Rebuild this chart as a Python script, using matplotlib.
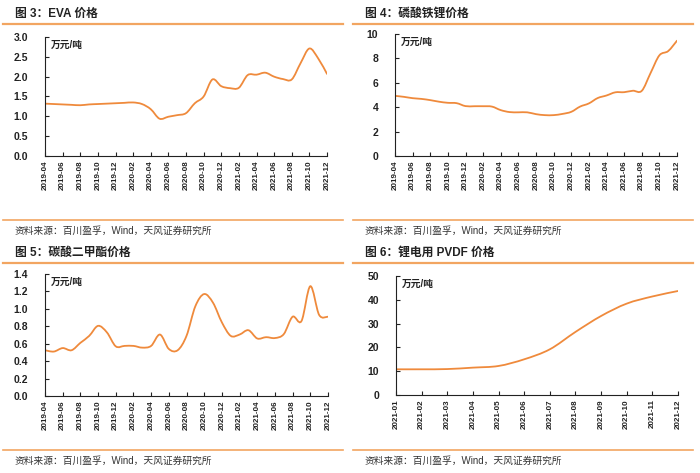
import matplotlib
matplotlib.use('Agg')
import matplotlib.pyplot as plt
from matplotlib.path import Path
from matplotlib.patches import PathPatch
import numpy as np

plt.rcParams['font.family'] = ['Liberation Sans', 'Noto Sans CJK SC', 'DejaVu Sans']

# ---- data ----
months_a = ['2019-04', '2019-05', '2019-06', '2019-07', '2019-08', '2019-09', '2019-10',
            '2019-11', '2019-12', '2020-01', '2020-02', '2020-03', '2020-04', '2020-05',
            '2020-06', '2020-07', '2020-08', '2020-09', '2020-10', '2020-11', '2020-12',
            '2021-01', '2021-02', '2021-03', '2021-04', '2021-05', '2021-06', '2021-07',
            '2021-08', '2021-09', '2021-10', '2021-11', '2021-12']
eva = [1.32, 1.31, 1.30, 1.29, 1.28, 1.30, 1.31, 1.32, 1.33, 1.34, 1.35, 1.31, 1.18, 0.94,
       0.99, 1.03, 1.08, 1.33, 1.50, 1.93, 1.76, 1.71, 1.72, 2.04, 2.05, 2.10, 2.00, 1.94,
       1.93, 2.34, 2.71, 2.46, 2.07]
lfp = [4.93, 4.85, 4.74, 4.68, 4.58, 4.45, 4.36, 4.33, 4.09, 4.08, 4.08, 4.05, 3.76, 3.60,
       3.58, 3.58, 3.43, 3.35, 3.35, 3.45, 3.62, 4.05, 4.31, 4.75, 4.96, 5.22, 5.23, 5.35,
       5.34, 6.80, 8.25, 8.60, 9.45]
dmc = [0.525, 0.51, 0.55, 0.525, 0.61, 0.69, 0.805, 0.73, 0.57, 0.575, 0.575, 0.555, 0.575,
       0.705, 0.54, 0.525, 0.69, 1.03, 1.17, 1.07, 0.845, 0.69, 0.705, 0.755, 0.66, 0.675,
       0.665, 0.71, 0.91, 0.86, 1.26, 0.93, 0.91]
months_b = ['2021-01', '2021-02', '2021-03', '2021-04', '2021-05', '2021-06',
            '2021-07', '2021-08', '2021-09', '2021-10', '2021-11', '2021-12']
pvdf = [10.8, 10.8, 10.9, 11.5, 12.2, 15.0, 19.2, 26.5, 33.2, 38.4, 41.4, 43.7]

titles = ['图 3：EVA 价格', '图 4：磷酸铁锂价格', '图 5：碳酸二甲酯价格', '图 6：锂电用 PVDF 价格']
source = '资料来源：百川盈孚，Wind，天风证券研究所'
unit = '万元/吨'

ORANGE = '#EF8A3C'
RULE = '#F2A561'
W, H = 700, 473

fig = plt.figure(figsize=(7, 4.73), dpi=100)


def px(x0, y0, x1, y1):
    return [x0 / W, 1 - y1 / H, (x1 - x0) / W, (y1 - y0) / H]


def smooth_path(x, y):
    # Catmull-Rom through the points, as cubic Bezier segments
    x = np.asarray(x, float)
    y = np.asarray(y, float)
    pts = np.column_stack([x, y])
    verts = [pts[0]]
    codes = [Path.MOVETO]
    n = len(pts)
    for i in range(n - 1):
        p0 = pts[max(i - 1, 0)]
        p1 = pts[i]
        p2 = pts[i + 1]
        p3 = pts[min(i + 2, n - 1)]
        c1 = p1 + (p2 - p0) / 6.0
        c2 = p2 - (p3 - p1) / 6.0
        verts += [c1, c2, p2]
        codes += [Path.CURVE4] * 3
    return Path(verts, codes)


def panel(box, labels, values, ylim, yticks, yfmt, step):
    ax = fig.add_axes(px(*box))
    x = np.arange(len(values))
    ax.add_patch(PathPatch(smooth_path(x, values), fill=False,
                           edgecolor=ORANGE, lw=1.3, capstyle='round'))
    ax.set_xlim(0, len(values) - 1)
    ax.set_ylim(*ylim)
    ax.set_yticks(yticks)
    ax.set_yticklabels([yfmt.format(v) for v in yticks])
    ax.set_xticks(x[::step])
    ax.set_xticklabels(labels[::step], rotation=90)
    for s in ['top', 'right']:
        ax.spines[s].set_visible(False)
    for s in ['left', 'bottom']:
        ax.spines[s].set_color('#222222')
        ax.spines[s].set_linewidth(0.8)
    ax.tick_params(axis='x', direction='in', length=3, width=0.8, labelsize=5.8,
                   pad=3, colors='#222222')
    ax.tick_params(axis='y', direction='in', length=3, width=0.8, labelsize=7.5,
                   pad=12, colors='#222222')
    for t in ax.get_yticklabels():
        t.set_horizontalalignment('right')
        t.set_fontweight('bold')
    for t in ax.get_xticklabels():
        t.set_fontweight('bold')
    ax.text(0.02, 0.975, unit, transform=ax.transAxes, fontsize=7, fontweight='bold',
            ha='left', va='top', color='#222222')
    return ax


panel((45, 37, 327, 156), months_a, eva, (0, 3.0), np.arange(0, 3.01, 0.5), '{:.1f}', 2)
panel((395, 34, 677, 156), months_a, lfp, (0, 10), np.arange(0, 10.1, 2), '{:.0f}', 2)
panel((45, 274, 328, 396), months_a, dmc, (0, 1.4), np.arange(0, 1.41, 0.2), '{:.1f}', 2)
panel((396, 276, 678, 395), months_b, pvdf, (0, 50), np.arange(0, 51, 10), '{:.0f}', 1)

# titles, rules and source lines
for col, row in [(0, 0), (1, 0), (0, 1), (1, 1)]:
    x0 = 3 + col * 350
    x1 = x0 + 340
    t_y, top_rule, bot_rule, src_y = [(14, 24, 220, 231), (253, 263, 450, 461)][row]
    fig.text((x0 + 12) / W, 1 - t_y / H, titles[row * 2 + col], fontsize=8.5,
             fontweight='bold', ha='left', va='center', color='#222222')
    fig.add_artist(plt.Line2D([x0 / W, x1 / W], [1 - top_rule / H] * 2,
                              color=RULE, lw=1.6))
    fig.add_artist(plt.Line2D([x0 / W, x1 / W], [1 - bot_rule / H] * 2,
                              color=RULE, lw=1.2))
    fig.text((x0 + 12) / W, 1 - src_y / H, source, fontsize=7,
             ha='left', va='center', color='#333333')

fig.savefig('out.png', dpi=100, facecolor='white')
